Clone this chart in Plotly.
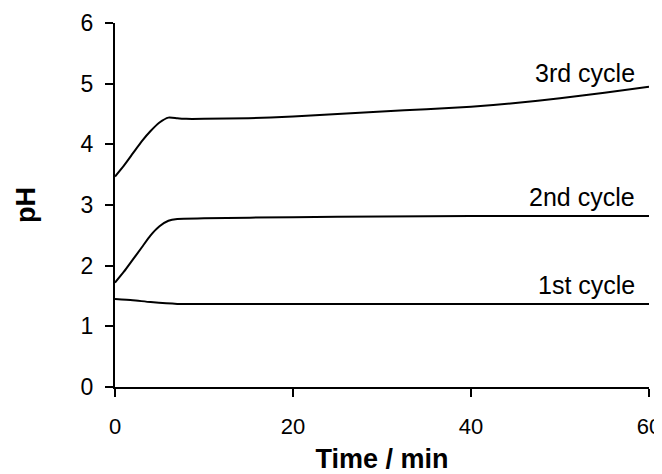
import plotly.graph_objects as go

# Data
t3 = [0, 1, 2, 3, 4, 5, 6, 7, 8, 10, 15, 20, 25, 30, 35, 40, 45, 50, 55, 60]
ph3 = [3.47, 3.65, 3.85, 4.05, 4.22, 4.36, 4.44, 4.43, 4.42, 4.42, 4.43, 4.46, 4.50, 4.54, 4.58, 4.62, 4.68, 4.76, 4.85, 4.95]

t2 = [0, 1, 2, 3, 4, 5, 6, 7, 10, 20, 30, 40, 60]
ph2 = [1.72, 1.90, 2.10, 2.30, 2.50, 2.65, 2.74, 2.77, 2.78, 2.80, 2.81, 2.82, 2.82]

t1 = [0, 2, 4, 7, 10, 60]
ph1 = [1.45, 1.43, 1.40, 1.37, 1.37, 1.37]

labels = ["3rd cycle", "2nd cycle", "1st cycle"]
label_x = [58.6, 58.6, 58.6]
label_y = [5.18, 3.13, 1.68]

x_ticks = [0, 20, 40, 60]
y_ticks = [0, 1, 2, 3, 4, 5, 6]

FONT = "Arial, 'Liberation Sans', sans-serif"

fig = go.Figure()
for t, ph in [(t3, ph3), (t2, ph2), (t1, ph1)]:
    fig.add_trace(go.Scatter(x=t, y=ph, mode="lines",
                             line=dict(color="black", width=2, shape="spline", smoothing=0.6),
                             showlegend=False, hoverinfo="skip", cliponaxis=False))

for txt, lx, ly in zip(labels, label_x, label_y):
    fig.add_annotation(x=lx, y=ly, text=txt, showarrow=False,
                       xanchor="right", yanchor="middle",
                       font=dict(family=FONT, size=25, color="black"))

# page body has an ~8px margin, so the figure is offset by it in the window
fig.update_layout(
    width=662, height=466,
    margin=dict(l=107, r=21, t=15, b=87, autoexpand=False),
    paper_bgcolor="white", plot_bgcolor="white",
    font=dict(family=FONT, color="black"),
)
fig.update_xaxes(range=[0, 60], tickvals=x_ticks, showgrid=False, zeroline=False,
                 showline=True, linecolor="black", linewidth=2,
                 ticks="outside", ticklen=8, tickwidth=2, tickcolor="black",
                 tickfont=dict(family=FONT, size=22, color="black"),
                 ticklabelstandoff=11, automargin=False, ticklabeloverflow="allow",
                 title=dict(text="<b>Time / min</b>", font=dict(family=FONT, size=27, color="black"), standoff=20))
fig.update_yaxes(range=[0, 6], tickvals=y_ticks, showgrid=False, zeroline=False,
                 showline=True, linecolor="black", linewidth=2,
                 ticks="outside", ticklen=8, tickwidth=2, tickcolor="black",
                 tickfont=dict(family=FONT, size=23, color="black"),
                 ticklabelstandoff=7, automargin=False,
                 title=dict(text="<b>pH</b>", font=dict(family=FONT, size=27, color="black"), standoff=37))

fig.write_html("out.html")
